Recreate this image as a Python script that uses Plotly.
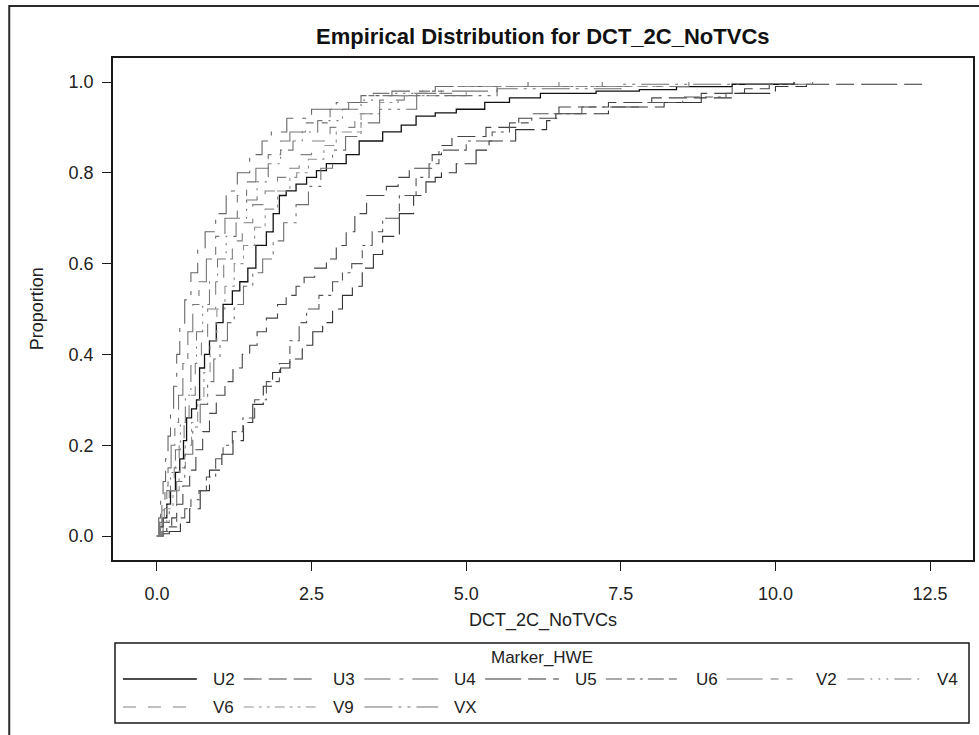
import plotly.graph_objects as go

# ---------------- data: empirical CDF points per marker ----------------
series_names = ["U2", "U3", "U4", "U5", "U6", "V2", "V4", "V6", "V9", "VX"]

u2_x = [0.00, 0.05, 0.10, 0.16, 0.22, 0.30, 0.37, 0.43, 0.48, 0.56, 0.64, 0.69, 0.77, 0.85, 0.96,
        1.07, 1.22, 1.34, 1.47, 1.60, 1.77, 1.88, 1.98, 2.09, 2.25, 2.42, 2.58, 2.74, 3.06, 3.27,
        3.65, 3.95, 4.19, 4.50, 4.84, 5.30, 5.70, 6.20, 7.10, 7.80, 8.40, 9.30, 10.30]
u2_p = [0.00, 0.02, 0.04, 0.07, 0.10, 0.14, 0.17, 0.21, 0.26, 0.28, 0.30, 0.37, 0.40, 0.43, 0.47,
        0.51, 0.54, 0.56, 0.59, 0.64, 0.67, 0.71, 0.75, 0.76, 0.775, 0.79, 0.805, 0.82, 0.84, 0.87,
        0.89, 0.905, 0.925, 0.932, 0.94, 0.955, 0.965, 0.975, 0.98, 0.983, 0.99, 0.995, 1.00]

u3_x = [0.00, 0.08, 0.16, 0.24, 0.32, 0.42, 0.53, 0.63, 0.74, 0.85, 0.96, 1.10, 1.23, 1.38, 1.50,
        1.62, 1.77, 1.95, 2.09, 2.25, 2.38, 2.55, 2.74, 2.90, 3.06, 3.20, 3.39, 3.71, 3.90, 4.08,
        4.45, 4.60, 4.77, 5.32, 5.85, 6.50, 7.30, 8.00, 8.80, 9.50, 9.90, 10.40]
u3_p = [0.00, 0.01, 0.02, 0.04, 0.07, 0.11, 0.145, 0.19, 0.23, 0.27, 0.31, 0.34, 0.37, 0.40, 0.42,
        0.45, 0.48, 0.51, 0.53, 0.55, 0.57, 0.59, 0.61, 0.64, 0.67, 0.71, 0.75, 0.77, 0.79, 0.81,
        0.84, 0.86, 0.88, 0.90, 0.92, 0.945, 0.955, 0.965, 0.975, 0.985, 0.995, 1.00]

u4_x = [0.00, 0.03, 0.06, 0.10, 0.14, 0.18, 0.22, 0.27, 0.32, 0.37, 0.45, 0.55, 0.66, 0.78, 0.95,
        1.12, 1.30, 1.50, 1.70, 1.85, 2.10, 2.50, 2.90, 3.30, 3.80, 4.50, 6.00]
u4_p = [0.00, 0.04, 0.08, 0.12, 0.17, 0.22, 0.27, 0.33, 0.40, 0.46, 0.52, 0.58, 0.63, 0.67, 0.71,
        0.76, 0.80, 0.84, 0.87, 0.89, 0.92, 0.94, 0.955, 0.97, 0.98, 0.99, 1.00]

u5_x = [0.00, 0.10, 0.20, 0.38, 0.53, 0.70, 0.85, 1.05, 1.23, 1.40, 1.55, 1.72, 1.87, 2.00, 2.15,
        2.35, 2.52, 2.68, 2.84, 3.00, 3.16, 3.32, 3.50, 3.65, 3.92, 4.15, 4.35, 4.50, 4.60, 4.84,
        5.16, 5.37, 5.80, 6.30, 6.45, 7.30, 8.20, 8.80, 9.30, 10.00, 10.50, 12.40]
u5_p = [0.00, 0.005, 0.01, 0.03, 0.06, 0.10, 0.145, 0.18, 0.21, 0.25, 0.29, 0.33, 0.36, 0.37, 0.39,
        0.42, 0.45, 0.47, 0.50, 0.53, 0.55, 0.59, 0.62, 0.66, 0.71, 0.75, 0.78, 0.79, 0.80, 0.82,
        0.85, 0.87, 0.895, 0.915, 0.93, 0.945, 0.955, 0.965, 0.975, 0.99, 0.995, 1.00]

u6_x = [0.00, 0.10, 0.18, 0.32, 0.45, 0.55, 0.68, 0.80, 0.95, 1.07, 1.22, 1.39, 1.58, 1.77, 1.98,
        2.15, 2.30, 2.42, 2.62, 2.84, 3.00, 3.15, 3.32, 3.48, 3.65, 3.92, 4.19, 4.40, 4.56, 5.00,
        5.42, 5.70, 6.06, 6.87, 7.80, 8.50, 9.20, 9.30]
u6_p = [0.00, 0.01, 0.02, 0.04, 0.06, 0.08, 0.10, 0.13, 0.17, 0.20, 0.23, 0.26, 0.30, 0.34, 0.38,
        0.43, 0.47, 0.50, 0.53, 0.56, 0.58, 0.60, 0.64, 0.67, 0.70, 0.75, 0.79, 0.82, 0.85, 0.87,
        0.89, 0.91, 0.93, 0.945, 0.955, 0.967, 0.975, 1.00]

v2_x = [0.00, 0.04, 0.08, 0.13, 0.18, 0.23, 0.29, 0.35, 0.42, 0.50, 0.58, 0.68, 0.80, 0.95, 1.10,
        1.30, 1.45, 1.60, 1.80, 2.00, 2.15, 2.40, 2.80, 3.10, 3.40, 4.20, 5.50, 8.60]
v2_p = [0.00, 0.03, 0.07, 0.11, 0.15, 0.20, 0.25, 0.31, 0.38, 0.45, 0.51, 0.56, 0.61, 0.66, 0.70,
        0.75, 0.78, 0.81, 0.84, 0.87, 0.89, 0.91, 0.94, 0.955, 0.97, 0.98, 0.99, 1.00]

v4_x = [0.00, 0.05, 0.10, 0.16, 0.22, 0.30, 0.38, 0.46, 0.55, 0.64, 0.74, 0.85, 0.98, 1.12, 1.28,
        1.45, 1.62, 1.80, 2.00, 2.20, 2.35, 2.60, 3.00, 3.30, 3.50, 4.60, 7.20]
v4_p = [0.00, 0.03, 0.06, 0.10, 0.14, 0.19, 0.25, 0.31, 0.38, 0.45, 0.51, 0.56, 0.61, 0.66, 0.70,
        0.74, 0.78, 0.82, 0.85, 0.87, 0.89, 0.915, 0.94, 0.96, 0.975, 0.99, 1.00]

v6_x = [0.00, 0.06, 0.12, 0.20, 0.28, 0.36, 0.44, 0.52, 0.62, 0.72, 0.82, 0.95, 1.08, 1.22, 1.38,
        1.55, 1.75, 1.95, 2.10, 2.30, 2.50, 2.80, 3.20, 3.60, 4.00, 4.80, 6.50]
v6_p = [0.00, 0.03, 0.06, 0.10, 0.15, 0.20, 0.25, 0.31, 0.38, 0.44, 0.50, 0.56, 0.61, 0.65, 0.69,
        0.73, 0.76, 0.79, 0.81, 0.84, 0.87, 0.90, 0.93, 0.96, 0.975, 0.99, 1.00]

v9_x = [0.00, 0.08, 0.16, 0.26, 0.36, 0.46, 0.56, 0.66, 0.76, 0.86, 0.97, 1.10, 1.25, 1.40, 1.58,
        1.75, 1.95, 2.15, 2.26, 2.45, 2.70, 2.90, 3.30, 3.60, 3.90, 5.00, 8.20]
v9_p = [0.00, 0.03, 0.06, 0.10, 0.15, 0.20, 0.25, 0.30, 0.36, 0.43, 0.50, 0.55, 0.60, 0.64, 0.68,
        0.72, 0.76, 0.79, 0.80, 0.83, 0.86, 0.89, 0.93, 0.955, 0.97, 0.99, 1.00]

vx_x = [0.00, 0.10, 0.20, 0.32, 0.45, 0.58, 0.70, 0.82, 0.92, 1.02, 1.14, 1.25, 1.40, 1.55, 1.71,
        1.88, 2.05, 2.25, 2.45, 2.65, 2.84, 3.05, 3.30, 3.60, 4.20, 5.50, 7.50, 10.60]
vx_p = [0.00, 0.03, 0.07, 0.12, 0.18, 0.24, 0.29, 0.34, 0.39, 0.43, 0.47, 0.51, 0.55, 0.58, 0.61,
        0.65, 0.69, 0.73, 0.77, 0.81, 0.85, 0.88, 0.91, 0.94, 0.97, 0.985, 0.995, 1.00]

x_tick_vals = [0.0, 2.5, 5.0, 7.5, 10.0, 12.5]
x_tick_text = ["0.0", "2.5", "5.0", "7.5", "10.0", "12.5"]
y_tick_vals = [0.0, 0.2, 0.4, 0.6, 0.8, 1.0]
y_tick_text = ["0.0", "0.2", "0.4", "0.6", "0.8", "1.0"]

series_data = {
    "U2": (u2_x, u2_p), "U3": (u3_x, u3_p), "U4": (u4_x, u4_p), "U5": (u5_x, u5_p),
    "U6": (u6_x, u6_p), "V2": (v2_x, v2_p), "V4": (v4_x, v4_p), "V6": (v6_x, v6_p),
    "V9": (v9_x, v9_p), "VX": (vx_x, vx_p),
}

# ---------------- styling ----------------
line_styles = {
    "U2": ("solid", "#111111", 1.3),
    "U3": ("18px,7px", "#444444", 1.1),
    "U4": ("26px,9px,4px,9px", "#666666", 1.1),
    "U5": ("36px,7px,18px,7px", "#333333", 1.1),
    "U6": ("16px,5px,8px,5px,3px,5px", "#555555", 1.1),
    "V2": ("36px,8px,8px,8px,6px,8px", "#777777", 1.1),
    "V4": ("17px,6px,2px,6px,2px,6px,2px,6px", "#777777", 1.1),
    "V6": ("13px,12px", "#808080", 1.1),
    "V9": ("10px,5px,3px,5px,3px,5px", "#909090", 1.1),
    "VX": ("28px,6px,3px,6px,3px,6px", "#707070", 1.1),
}

FONT = "Liberation Sans, Arial, sans-serif"
W, H = 979, 735
PL, PR, PT, PB = 113, 975, 58, 560   # plot frame in pixels


def fx(px):
    return (px - PL) / (PR - PL)


def fy(py):
    return (PB - py) / (PB - PT)


fig = go.Figure()
for name in series_names:
    xs, ps = series_data[name]
    dash, color, width = line_styles[name]
    fig.add_trace(go.Scatter(
        x=xs, y=ps, mode="lines", name=name, showlegend=False,
        line=dict(color=color, width=width, dash=dash, shape="hv"),
    ))

shapes = []
annotations = []

# outer frame around the whole graphic
shapes.append(dict(type="rect", xref="paper", yref="paper",
                   x0=fx(9), x1=fx(995), y0=fy(760), y1=fy(6),
                   line=dict(color="#2a2a2a", width=2), fillcolor="rgba(0,0,0,0)", layer="above"))

# legend frame
shapes.append(dict(type="rect", xref="paper", yref="paper",
                   x0=fx(115), x1=fx(971), y0=fy(723), y1=fy(643),
                   line=dict(color="#1a1a1a", width=1.5), fillcolor="rgba(0,0,0,0)"))
annotations.append(dict(text="Marker_HWE", xref="paper", yref="paper",
                        x=fx(543), y=fy(657), showarrow=False, xanchor="center", yanchor="middle",
                        font=dict(family=FONT, size=17, color="#222222")))

entry_starts = [123, 244, 365, 486, 607, 728, 849]
row_y = [679, 707]
for i, name in enumerate(series_names):
    row, col = divmod(i, 7)
    x0 = entry_starts[col]
    yy = row_y[row]
    dash, color, width = line_styles[name]
    shapes.append(dict(type="line", xref="paper", yref="paper",
                       x0=fx(x0), x1=fx(x0 + 74), y0=fy(yy), y1=fy(yy),
                       line=dict(color=color, width=width, dash=dash)))
    annotations.append(dict(text=name, xref="paper", yref="paper",
                            x=fx(x0 + 88), y=fy(yy), showarrow=False,
                            xanchor="left", yanchor="middle",
                            font=dict(family=FONT, size=17, color="#222222")))

# titles
annotations.append(dict(text="<b>Empirical Distribution for DCT_2C_NoTVCs</b>", xref="paper", yref="paper",
                        x=fx(544), y=fy(36), showarrow=False, xanchor="center", yanchor="middle",
                        font=dict(family=FONT, size=22, color="#111111")))
annotations.append(dict(text="DCT_2C_NoTVCs", xref="paper", yref="paper",
                        x=fx(544), y=fy(620), showarrow=False, xanchor="center", yanchor="middle",
                        font=dict(family=FONT, size=18, color="#222222")))
annotations.append(dict(text="Proportion", xref="paper", yref="paper",
                        x=fx(37), y=fy(309), showarrow=False, xanchor="center", yanchor="middle",
                        textangle=-90, font=dict(family=FONT, size=18, color="#222222")))

fig.update_layout(
    width=W, height=H,
    margin=dict(l=PL, r=W - PR, t=PT, b=H - PB, pad=0),
    paper_bgcolor="white", plot_bgcolor="white",
    showlegend=False,
    shapes=shapes, annotations=annotations,
    font=dict(family=FONT, size=18, color="#222222"),
)

x_span = (PR - PL) / 62.0
x_lo = -(157 - PL) / 62.0
fig.update_xaxes(
    range=[x_lo, x_lo + x_span], tickvals=x_tick_vals, ticktext=x_tick_text,
    showgrid=False, zeroline=False, showline=True, mirror=True,
    linecolor="#1a1a1a", linewidth=1.5,
    ticks="outside", ticklen=9, tickwidth=1, tickcolor="#1a1a1a",
    ticklabelstandoff=8, tickfont=dict(family=FONT, size=18, color="#222222"),
)
y_scale = 454.0
fig.update_yaxes(
    range=[-(PB - 536) / y_scale, (536 - PT) / y_scale], tickvals=y_tick_vals, ticktext=y_tick_text,
    showgrid=False, zeroline=False, showline=True, mirror=True,
    linecolor="#1a1a1a", linewidth=1.5,
    ticks="outside", ticklen=9, tickwidth=1, tickcolor="#1a1a1a",
    ticklabelstandoff=5, tickfont=dict(family=FONT, size=18, color="#222222"),
)

fig.write_html("out.html")
